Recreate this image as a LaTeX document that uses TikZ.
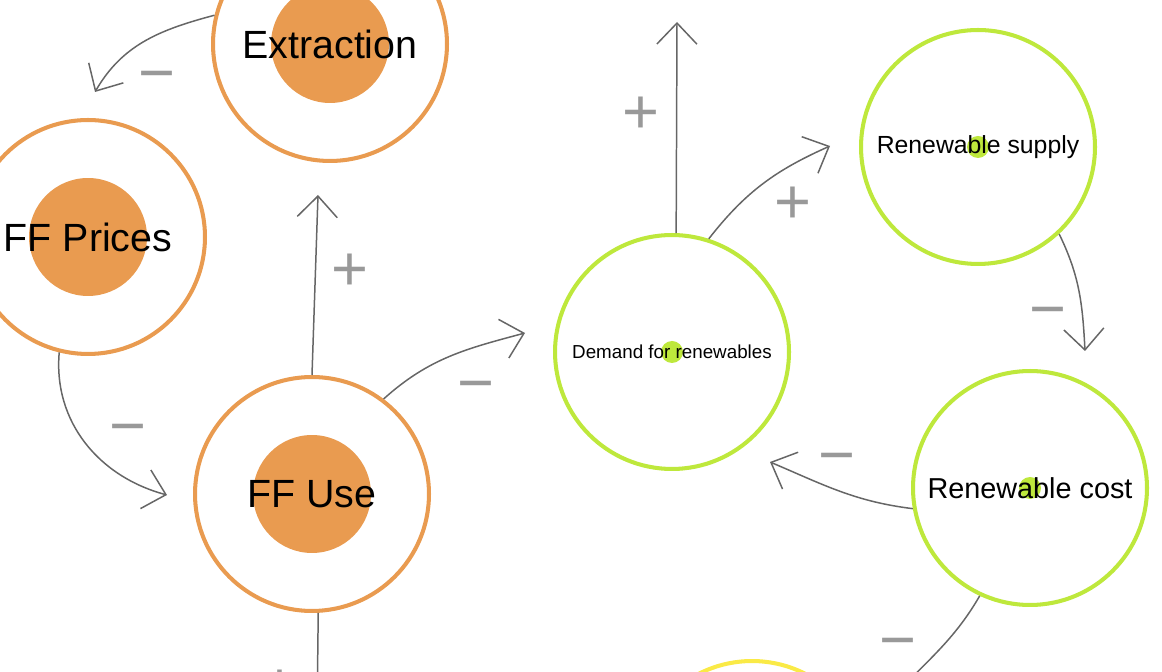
\documentclass[tikz,border=0pt]{standalone}
\usepackage{fontspec}
\setmainfont{Liberation Sans}
\usetikzlibrary{arrows.meta}
\definecolor{fforange}{RGB}{233,155,80}
\definecolor{renlime}{RGB}{190,232,60}
\definecolor{nextyellow}{RGB}{250,234,70}
\definecolor{linkgray}{RGB}{102,102,102}
\definecolor{signgray}{RGB}{153,153,153}

\begin{document}
\begin{tikzpicture}[x=0.02cm, y=0.02cm,
    ring/.style={circle, inner sep=0pt, minimum size=4.68cm, line width=2.3pt, fill=white},
    ffnode/.style={ring, draw=fforange, font=\fontsize{22.4}{26}\selectfont,
        path picture={\fill[fforange] (path picture bounding box.center) circle[radius=1.18cm];}},
    rennode/.style={ring, draw=renlime,
        path picture={\fill[renlime] (path picture bounding box.center) circle[radius=0.22cm];}},
    link/.style={draw=linkgray, line width=0.85pt,
        -{Straight Barb[length=0.42cm, width=0.8cm, line width=0.85pt]}},
    sign/.style={text=signgray, inner sep=0pt, text height=25.5pt, text depth=0pt,
        font=\fontsize{36}{40}\selectfont}]
    \useasboundingbox (0,0) rectangle (1162,672);
    \clip (0,0) rectangle (1162,672);

    % Fossil fuel loop
    \node[ffnode] (extraction) at (330,628) {Extraction};
    \node[ffnode] (ffprices) at (88,435) {FF Prices};
    \node[ffnode] (ffuse) at (312,178) {FF Use};

    % Renewables loop
    \node[rennode, font=\fontsize{10.7}{13}\selectfont] (demand) at (672,320) {Demand for renewables};
    \node[rennode, font=\fontsize{14.1}{17}\selectfont] (rsupply) at (978,525) {Renewable supply};
    \node[rennode, font=\fontsize{16.4}{19}\selectfont] (rcost) at (1030,184) {Renewable cost};
    \node[ring, draw=nextyellow] (nextnode) at (752,-106) {};

    % Links
    \draw[link] (extraction.166) to[out=195, in=60] ([shift={(7,145)}]ffprices.center);
    \draw[link] (ffprices.256) to[out=265, in=165] ([shift={(-145,-1)}]ffuse.center);
    \draw[link] (ffuse.north) -- ([shift={(6,299)}]ffuse.center);
    \draw[link] (ffuse.53) to[out=42, in=195] ([shift={(-147,19)}]demand.center);
    \draw[link] (demand.88) -- ([shift={(5,330)}]demand.center);
    \draw[link] (demand.72) to[out=52, in=204] ([shift={(-148,1)}]rsupply.center);
    \draw[link] (rsupply.-47) to[out=-64, in=93] ([shift={(55,137)}]rcost.center);
    \draw[link] (rcost.190) to[out=173, in=-23] ([shift={(98,-110)}]demand.center);
    \draw[link] (rcost.245) to[out=240, in=52] ([shift={(124,60)}]nextnode.center);
    \draw[link] (ffuse.-87) -- ([shift={(5,-226)}]ffuse.center);

    % Polarity signs
    \node[sign] (m1) at (157,600) {−};
    \node[sign] (m2) at (128,247) {−};
    \node[sign] (p1) at (350,404) {+};
    \node[sign] (m3) at (476,290) {−};
    \node[sign] (p2) at (641,561) {+};
    \node[sign] (p3) at (793,471) {+};
    \node[sign] (m4) at (1048,364) {−};
    \node[sign] (m5) at (837,218) {−};
    \node[sign] (m6) at (898,33) {−};
    \node[sign] (p4) at (280,-12) {+};
\end{tikzpicture}
\end{document}
